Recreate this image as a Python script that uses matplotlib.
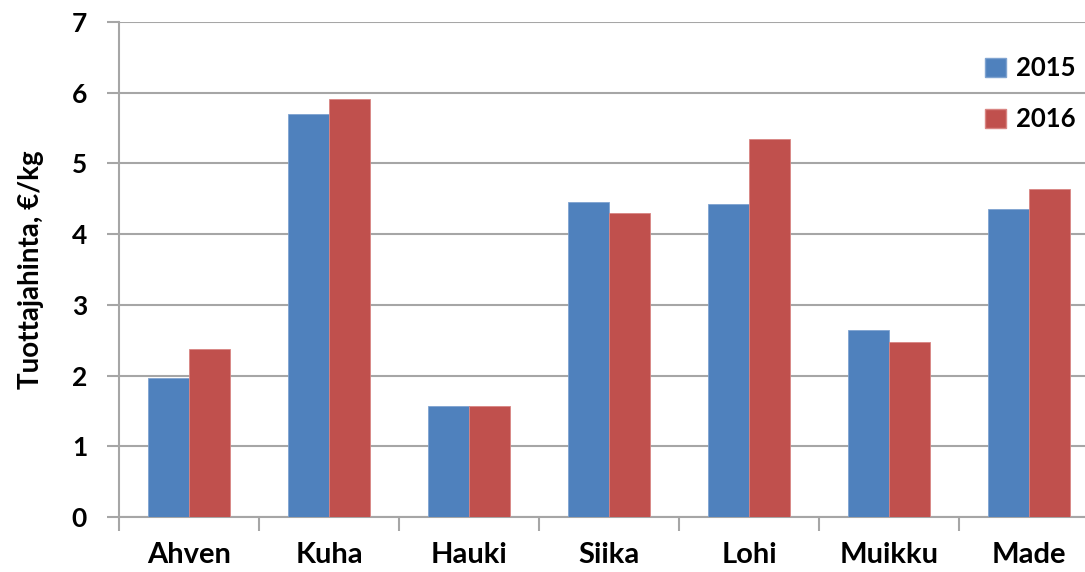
import matplotlib.pyplot as plt
import numpy as np
from matplotlib.patches import Patch

plt.rcParams['font.family'] = ['Lato', 'DejaVu Sans']
plt.rcParams['font.weight'] = 'bold'

species = ['Ahven', 'Kuha', 'Hauki', 'Siika', 'Lohi', 'Muikku', 'Made']
price_2015 = [1.97, 5.70, 1.57, 4.45, 4.43, 2.65, 4.36]
price_2016 = [2.37, 5.91, 1.57, 4.30, 5.35, 2.48, 4.64]

blue = '#4F81BD'
red = '#C0504D'
grey = '#A6A6A6'

fig = plt.figure(figsize=(10.85, 5.72), dpi=100)
# plot area continues past the right edge, as in the cropped original
ax = fig.add_axes([119 / 1085, 1 - 517 / 572, 980 / 1085, 495 / 572])

x = np.arange(len(species))
w = 0.293
ax.bar(x - w / 2, price_2015, w, color=blue, edgecolor='#7FA3D0', linewidth=0.6, zorder=3)
ax.bar(x + w / 2, price_2016, w, color=red, edgecolor='#D98583', linewidth=0.6, zorder=3)

ax.set_xlim(-0.5, len(species) - 0.5)
ax.set_ylim(0, 7)
ax.set_yticks(range(0, 8))
ax.set_xticks(x)
ax.set_xticklabels(species, fontsize=21, fontweight='bold')
ax.set_xticks(np.arange(-0.5, len(species)), minor=True)
ax.tick_params(axis='x', which='major', length=0, pad=18)
ax.tick_params(axis='x', which='minor', length=10, width=1.5, color=grey)
ax.tick_params(axis='y', length=9, width=1.5, color=grey, labelsize=19, pad=14)
for lab in ax.get_yticklabels():
    lab.set_fontweight('bold')

ax.grid(axis='y', color=grey, linewidth=1.5, zorder=0)
ax.set_axisbelow(True)
for side in ['top', 'right']:
    ax.spines[side].set_visible(False)
for side in ['left', 'bottom']:
    ax.spines[side].set_color(grey)
    ax.spines[side].set_linewidth(1.5)

ax.set_ylabel('Tuottajahinta, €/kg', fontsize=20, fontweight='bold', labelpad=20)

handles = [Patch(facecolor=blue, edgecolor='#7FA3D0', label='2015'),
           Patch(facecolor=red, edgecolor='#D98583', label='2016')]
fig.legend(handles=handles, loc='upper left', bbox_to_anchor=(975 / 1085, 1 - 46 / 572),
           frameon=False, prop={'size': 18.5, 'weight': 'bold'},
           handlelength=0.8, handleheight=0.8, handletextpad=0.4, labelspacing=1.05,
           borderaxespad=0)

fig.savefig('out.png', dpi=100)
